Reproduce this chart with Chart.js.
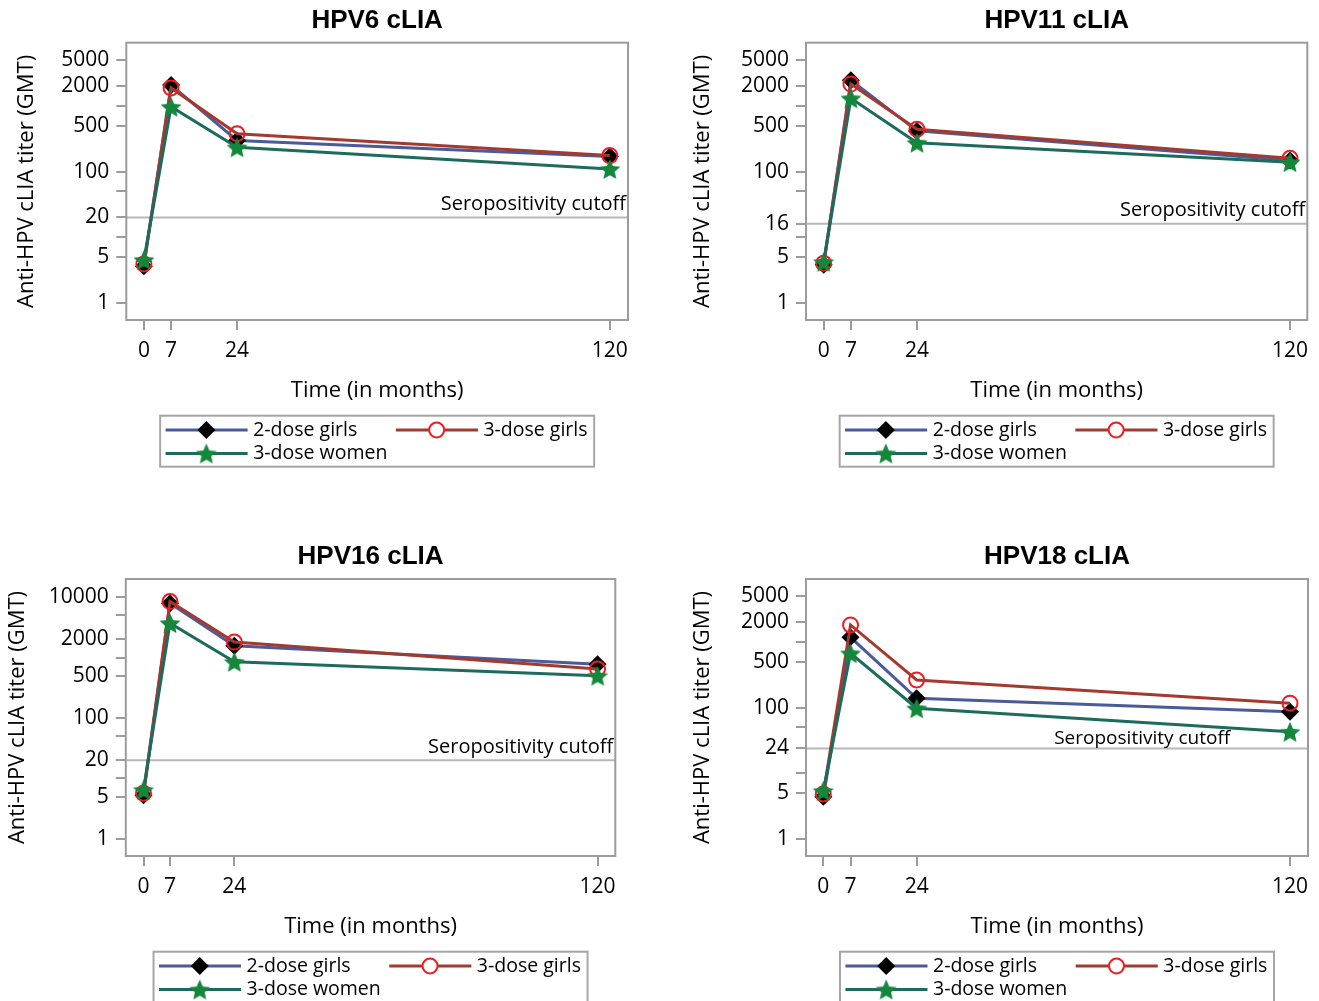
<!DOCTYPE html>
<html>
<head>
<meta charset="utf-8">
<script src="https://cdn.jsdelivr.net/npm/chart.js@4.4.1/dist/chart.umd.min.js"></script>
<style>
html, body { margin: 0; padding: 0; background: #ffffff; }
body { width: 1319px; height: 1001px; position: relative; overflow: hidden; }
canvas { position: absolute; }
</style>
</head>
<body>
<canvas id="c1" width="660" height="500" style="left:0px;top:0px"></canvas>
<canvas id="c2" width="659" height="500" style="left:660px;top:0px"></canvas>
<canvas id="c3" width="660" height="501" style="left:0px;top:500px"></canvas>
<canvas id="c4" width="659" height="501" style="left:660px;top:500px"></canvas>
<script>
// ---------------- DATA ----------------
const months = [0, 7, 24, 120];
const xTickValues = [0, 7, 24, 120];
const seriesLabels = ['2-dose girls', '3-dose girls', '3-dose women'];
const panelTitles = ['HPV6 cLIA', 'HPV11 cLIA', 'HPV16 cLIA', 'HPV18 cLIA'];
const yAxisTitle = 'Anti-HPV cLIA titer (GMT)';
const xAxisTitle = 'Time (in months)';
const cutoffLabel = 'Seropositivity cutoff';

const hpv6TwoDoseGirls   = [3.6, 2100, 300, 170];
const hpv6ThreeDoseGirls = [3.9, 1900, 380, 176];
const hpv6ThreeDoseWomen = [4.5, 980, 236, 110];

const hpv11TwoDoseGirls   = [3.8, 2500, 420, 148];
const hpv11ThreeDoseGirls = [4.0, 2180, 445, 160];
const hpv11ThreeDoseWomen = [4.2, 1320, 277, 140];

const hpv16TwoDoseGirls   = [5.3, 7900, 1570, 770];
const hpv16ThreeDoseGirls = [5.7, 8400, 1800, 645];
const hpv16ThreeDoseWomen = [6.5, 3700, 850, 500];

const hpv18TwoDoseGirls   = [4.4, 1180, 139, 87];
const hpv18ThreeDoseGirls = [4.85, 1820, 264, 117];
const hpv18ThreeDoseWomen = [5.4, 674, 98, 43];

const cutoffs = [20, 16, 20, 24];

const hpv6YTickLabels  = [1, 5, 20, 100, 500, 2000, 5000];
const hpv11YTickLabels = [1, 5, 16, 100, 500, 2000, 5000];
const hpv16YTickLabels = [1, 5, 20, 100, 500, 2000, 10000];
const hpv18YTickLabels = [1, 5, 24, 100, 500, 2000, 5000];
const hpv6YMinorTicks  = [10, 50, 1000];
const hpv11YMinorTicks = [10, 50, 1000];
const hpv16YMinorTicks = [10, 50, 1000, 5000];
const hpv18YMinorTicks = [10, 50, 1000];

// ---------------- STYLE ----------------
const FONT = "'Open Sans', 'Noto Sans', sans-serif";
Chart.defaults.font.family = FONT;
Chart.defaults.color = '#000';

const lineColors = ['#4a5a9c', '#a33a2d', '#1d6b5d'];
const markerFill = ['#000000', 'rgba(0,0,0,0)', '#15873c'];
const markerStroke = ['#000000', '#ee1c24', '#15873c'];

function makeStar(R, ratio, color) {
  const c = document.createElement('canvas');
  const s = Math.ceil(R * 2 + 2);
  c.width = s; c.height = s;
  const g = c.getContext('2d');
  const cx = s / 2, cy = s / 2 + R * 0.1;
  g.beginPath();
  for (let i = 0; i < 10; i++) {
    const r = i % 2 === 0 ? R : R * ratio;
    const a = -Math.PI / 2 + i * Math.PI / 5;
    const px = cx + r * Math.cos(a), py = cy + r * Math.sin(a);
    if (i === 0) g.moveTo(px, py); else g.lineTo(px, py);
  }
  g.closePath();
  g.fillStyle = color;
  g.fill();
  return c;
}
const starImg = makeStar(11, 0.47, '#15873c');

function drawMarker(ctx, k, x, y) {
  ctx.save();
  if (k === 0) {
    const r = 9;
    ctx.beginPath();
    ctx.moveTo(x - r, y); ctx.lineTo(x, y - r); ctx.lineTo(x + r, y); ctx.lineTo(x, y + r);
    ctx.closePath();
    ctx.fillStyle = '#000'; ctx.fill();
  } else if (k === 1) {
    ctx.beginPath();
    ctx.arc(x, y, 7.5, 0, Math.PI * 2);
    ctx.fillStyle = '#fff'; ctx.fill();
    ctx.lineWidth = 2; ctx.strokeStyle = '#ee1c24'; ctx.stroke();
  } else {
    ctx.drawImage(starImg, x - starImg.width / 2, y - starImg.height / 2);
  }
  ctx.restore();
}

const decorPlugin = {
  id: 'decor',
  beforeDatasetsDraw(chart, args, opts) {
    const { ctx, chartArea: a, scales } = chart;
    const yc = scales.y.getPixelForValue(opts.cutoff);
    ctx.save();
    ctx.strokeStyle = '#b8b8b8';
    ctx.lineWidth = 2;
    ctx.beginPath();
    ctx.moveTo(a.left, yc); ctx.lineTo(a.right, yc);
    ctx.stroke();
    ctx.fillStyle = '#000';
    ctx.font = opts.labelSize + 'px ' + FONT;
    ctx.textBaseline = 'middle';
    if (opts.labelAt == null) {
      ctx.textAlign = 'right';
      ctx.fillText(cutoffLabel, a.right - 2, yc - opts.labelDy);
    } else {
      ctx.textAlign = 'center';
      ctx.fillText(cutoffLabel, scales.x.getPixelForValue(opts.labelAt), yc - opts.labelDy);
    }
    ctx.restore();
  },
  afterDraw(chart) {
    const { ctx, chartArea: a } = chart;
    ctx.save();
    // frame
    ctx.strokeStyle = '#9c9c9c';
    ctx.lineWidth = 2;
    ctx.strokeRect(a.left, a.top, a.right - a.left, a.bottom - a.top);
    // legend
    const lw = 434, lh = 51;
    const lx = (a.left + a.right) / 2 - lw / 2;
    const ly = a.bottom + 95.7;
    ctx.fillStyle = '#fff';
    ctx.fillRect(lx, ly, lw, lh);
    ctx.strokeStyle = '#a6a6a6';
    ctx.lineWidth = 2;
    ctx.strokeRect(lx, ly, lw, lh);
    const items = [{ dx: 0, row: 0 }, { dx: 230.3, row: 0 }, { dx: 0, row: 1 }];
    chart.data.datasets.forEach((ds, i) => {
      const it = items[i];
      const y = ly + 14.3 + it.row * 23.5;
      ctx.strokeStyle = ds.borderColor;
      ctx.lineWidth = 3;
      ctx.beginPath();
      ctx.moveTo(lx + 5.4 + it.dx, y); ctx.lineTo(lx + 87.5 + it.dx, y);
      ctx.stroke();
      drawMarker(ctx, i, lx + 46.2 + it.dx, y);
      ctx.fillStyle = '#000';
      ctx.font = '19.5px ' + FONT;
      ctx.textAlign = 'left';
      ctx.textBaseline = 'middle';
      ctx.fillText(ds.label, lx + 93 + it.dx, y);
    });
    ctx.restore();
  }
};

function makePanel(p) {
  const canvas = document.getElementById(p.id);
  const W = canvas.width, H = canvas.height;
  const titleH = 42.7;
  const xAxisH = 88;
  const yTitleSize = 22;
  const padLeft = p.yTitleX - yTitleSize * 0.6;
  const allYTicks = p.yLabels.concat(p.yMinor).sort((a, b) => a - b);
  const series = [p.s1, p.s2, p.s3];
  const datasets = series.map((vals, i) => ({
    label: seriesLabels[i],
    data: months.map((m, j) => ({ x: m, y: vals[j] })),
    borderColor: lineColors[i],
    backgroundColor: lineColors[i],
    borderWidth: 3,
    tension: 0,
    pointStyle: i === 0 ? 'rectRot' : (i === 1 ? 'circle' : starImg),
    pointRadius: i === 0 ? 9 : (i === 1 ? 7.5 : 11),
    pointBackgroundColor: markerFill[i],
    pointBorderColor: markerStroke[i],
    pointBorderWidth: i === 1 ? 2 : 0,
    order: 3 - i
  }));
  return new Chart(canvas, {
    type: 'line',
    data: { datasets },
    plugins: [decorPlugin],
    options: {
      responsive: false,
      animation: false,
      events: [],
      layout: {
        padding: {
          top: p.area.top - titleH,
          left: padLeft,
          right: W - p.area.right,
          bottom: H - p.area.bottom - xAxisH
        }
      },
      plugins: {
        legend: { display: false },
        tooltip: { enabled: false },
        title: {
          display: true,
          text: p.title,
          fullSize: false,
          font: { family: "'Liberation Sans', Arial, sans-serif", size: 26, weight: 'bold', lineHeight: 1.1 },
          color: '#000',
          padding: { top: 6.4, bottom: 7.7 }
        },
        decor: { cutoff: p.cutoff, labelDy: p.labelDy, labelAt: p.labelAt, labelSize: p.labelSize }
      },
      scales: {
        x: {
          type: 'linear',
          position: 'bottom',
          min: p.xMin,
          max: p.xMax,
          afterBuildTicks: (s) => { s.ticks = xTickValues.map(v => ({ value: v })); },
          afterFit: (s) => { s.height = xAxisH; },
          ticks: { autoSkip: false, maxRotation: 0, padding: 8, font: { size: 21 }, color: '#000',
                   callback: (v) => String(v) },
          grid: { drawOnChartArea: false, drawTicks: true, tickLength: 10, color: '#9c9c9c', lineWidth: 2 },
          border: { display: false },
          title: { display: true, text: xAxisTitle, font: { size: 22, lineHeight: 1.1 }, color: '#000', padding: { top: 4, bottom: 5 } }
        },
        y: {
          type: 'logarithmic',
          position: 'left',
          min: p.yMin,
          max: p.yMax,
          bounds: 'data',
          afterBuildTicks: (s) => { s.ticks = allYTicks.map(v => ({ value: v })); },
          afterFit: (s) => { s.width = p.area.left - padLeft; },
          ticks: { autoSkip: false, padding: 7, font: { size: 21 }, color: '#000',
                   callback: (v) => (p.yLabels.indexOf(v) >= 0 ? String(v) : '') },
          grid: { drawOnChartArea: false, drawTicks: true, tickLength: 10, color: '#9c9c9c', lineWidth: 2 },
          border: { display: false },
          title: { display: true, text: yAxisTitle, font: { size: yTitleSize, lineHeight: 1.2 }, color: '#000', padding: { top: 0, bottom: 0 } }
        }
      }
    }
  });
}

makePanel({ id: 'c1', title: panelTitles[0], area: { left: 126.3, right: 628, top: 42.7, bottom: 320 },
  yTitleX: 26.3, xMin: -4.53, xMax: 124.69, yMin: 0.5444, yMax: 9322,
  yLabels: hpv6YTickLabels, yMinor: hpv6YMinorTicks, cutoff: cutoffs[0], labelDy: 13, labelAt: null, labelSize: 20,
  s1: hpv6TwoDoseGirls, s2: hpv6ThreeDoseGirls, s3: hpv6ThreeDoseWomen });

makePanel({ id: 'c2', title: panelTitles[1], area: { left: 146, right: 647.3, top: 42.7, bottom: 320 },
  yTitleX: 43, xMin: -4.55, xMax: 124.44, yMin: 0.5444, yMax: 9322,
  yLabels: hpv11YTickLabels, yMinor: hpv11YMinorTicks, cutoff: cutoffs[1], labelDy: 13.3, labelAt: null, labelSize: 20,
  s1: hpv11TwoDoseGirls, s2: hpv11ThreeDoseGirls, s3: hpv11ThreeDoseWomen });

makePanel({ id: 'c3', title: panelTitles[2], area: { left: 125.8, right: 615.3, top: 79, bottom: 356 },
  yTitleX: 18, xMin: -4.68, xMax: 124.68, yMin: 0.5236, yMax: 19840,
  yLabels: hpv16YTickLabels, yMinor: hpv16YMinorTicks, cutoff: cutoffs[2], labelDy: 12.7, labelAt: null, labelSize: 20,
  s1: hpv16TwoDoseGirls, s2: hpv16ThreeDoseGirls, s3: hpv16ThreeDoseWomen });

makePanel({ id: 'c4', title: panelTitles[3], area: { left: 146, right: 648, top: 79, bottom: 356 },
  yTitleX: 43, xMin: -4.45, xMax: 124.63, yMin: 0.551, yMax: 9125,
  yLabels: hpv18YTickLabels, yMinor: hpv18YMinorTicks, cutoff: cutoffs[3], labelDy: 10, labelAt: 82, labelSize: 19,
  s1: hpv18TwoDoseGirls, s2: hpv18ThreeDoseGirls, s3: hpv18ThreeDoseWomen });
</script>
</body>
</html>
